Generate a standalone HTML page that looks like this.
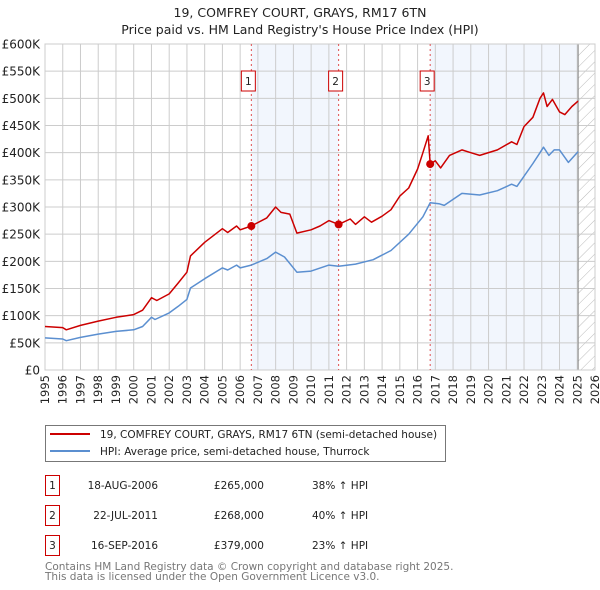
<!DOCTYPE html>
<html><head><meta charset="utf-8"><style>
body{margin:0;background:#fff;width:600px;height:590px;overflow:hidden;font-family:"DejaVu Sans","Liberation Sans",sans-serif}
svg{display:block}
</style></head><body>
<svg id="chart" width="600" height="590" viewBox="0 0 600 590" xmlns="http://www.w3.org/2000/svg" font-family="DejaVu Sans, Liberation Sans, sans-serif">
<text x="300" y="17" text-anchor="middle" font-size="12.5" fill="#222">19, COMFREY COURT, GRAYS, RM17 6TN</text>
<text x="300" y="34" text-anchor="middle" font-size="12.5" fill="#222">Price paid vs. HM Land Registry's House Price Index (HPI)</text>
<defs><pattern id="hatch" width="8" height="8" patternUnits="userSpaceOnUse" patternTransform="rotate(45)"><line x1="0" y1="0" x2="0" y2="8" stroke="#bbb" stroke-width="1"/></pattern></defs>
<g id="plot"></g>
<rect x="45.5" y="425.5" width="400" height="36" fill="#fff" stroke="#777"/>
<line x1="50" y1="434" x2="90" y2="434" stroke="#cc0000" stroke-width="2"/>
<text x="100" y="438" font-size="10.5" fill="#222">19, COMFREY COURT, GRAYS, RM17 6TN (semi-detached house)</text>
<line x1="50" y1="451" x2="90" y2="451" stroke="#5b8fd0" stroke-width="2"/>
<text x="100" y="455" font-size="10.5" fill="#222">HPI: Average price, semi-detached house, Thurrock</text>
<g id="table" font-size="10.5" fill="#222"></g>
<text x="45" y="570" font-size="10.5" fill="#777">Contains HM Land Registry data © Crown copyright and database right 2025.</text>
<text x="45" y="580" font-size="10.5" fill="#777">This data is licensed under the Open Government Licence v3.0.</text>
</svg>
<script>
const hpiYears=[1995,1996,1996.2,1997,1998,1999,2000,2000.5,2001,2001.2,2002,2002.5,2003,2003.2,2004,2005,2005.3,2005.8,2006,2006.63,2007.5,2008,2008.5,2009.2,2010,2011,2011.55,2012.5,2013.5,2014.5,2015.5,2016.3,2016.71,2017.2,2017.5,2018.5,2019.5,2020.5,2021.3,2021.6,2022.5,2022.9,2023.1,2023.4,2023.7,2024.0,2024.5,2025.05];
const hpiValues=[59,57,54,60,66,71,74,80,97,93,105,117,130,151,168,188,184,193,188,193,205,217,208,180,182,193,191,195,203,220,250,282,308,306,303,325,322,330,342,338,380,400,410,395,405,405,382,402];
const priceYears=[1995,1996,1996.2,1997,1998,1999,2000,2000.5,2001,2001.3,2002,2002.5,2003,2003.2,2004,2005,2005.3,2005.8,2006,2006.63,2007.5,2008,2008.3,2008.8,2009.2,2010,2010.5,2011,2011.55,2012.2,2012.5,2013,2013.4,2014,2014.5,2015,2015.5,2016,2016.3,2016.6,2016.71,2017.0,2017.3,2017.8,2018.5,2019,2019.5,2020.5,2021.3,2021.6,2022,2022.5,2022.9,2023.1,2023.3,2023.6,2024.0,2024.3,2024.7,2025.05];
const priceValues=[80,78,74,82,90,97,102,110,133,128,140,160,180,210,235,260,253,265,258,265,280,300,290,287,252,258,265,275,268,278,268,282,272,283,295,320,335,370,400,431,379,385,372,395,405,400,395,405,420,415,448,465,500,510,485,498,475,470,485,495];
const saleYears=[2006.63,2011.55,2016.71];
const salePrices=[265,268,379];
const saleLabels=["1","2","3"];
const saleDates=["18-AUG-2006","22-JUL-2011","16-SEP-2016"];
const salePriceText=["£265,000","£268,000","£379,000"];
const saleHpiText=["38% ↑ HPI","40% ↑ HPI","23% ↑ HPI"];
const yTicks=[0,50,100,150,200,250,300,350,400,450,500,550,600];
const yTickLabels=["£0","£50K","£100K","£150K","£200K","£250K","£300K","£350K","£400K","£450K","£500K","£550K","£600K"];
const xTicks=[1995,1996,1997,1998,1999,2000,2001,2002,2003,2004,2005,2006,2007,2008,2009,2010,2011,2012,2013,2014,2015,2016,2017,2018,2019,2020,2021,2022,2023,2024,2025,2026];
const dataEnd=2025.05;

const NS="http://www.w3.org/2000/svg";
const L=45,R=595,T=44,B=370,x0=1995,x1=2026,yMax=600;
const xs=v=>L+(v-x0)/(x1-x0)*(R-L);
const ys=v=>B-v/yMax*(B-T);
const plot=document.getElementById('plot');
function mk(tag,attrs,parent){const e=document.createElementNS(NS,tag);for(const k in attrs)e.setAttribute(k,attrs[k]);(parent||plot).appendChild(e);return e;}

let sh=mk('rect',{x:xs(saleYears[0]),y:T,width:xs(saleYears[1])-xs(saleYears[0]),height:B-T,fill:'#f2f6fd'});


let sh2=mk('rect',{x:xs(saleYears[2]),y:T,width:xs(dataEnd)-xs(saleYears[2]),height:B-T,fill:'#f2f6fd'});


let hz=mk('rect',{x:xs(dataEnd),y:T,width:R-xs(dataEnd),height:B-T,fill:'url(#hatch)'});



yTicks.forEach((v,i)=>{
  mk('line',{x1:L,x2:R,y1:ys(v),y2:ys(v),stroke:'#cccccc','stroke-width':1});
  const t=mk('text',{x:L-5,y:ys(v)+4.5,'text-anchor':'end','font-size':'12',fill:'#222'});
  t.textContent=yTickLabels[i];
  
  
});
xTicks.forEach(v=>{
  mk('line',{x1:xs(v),x2:xs(v),y1:T,y2:B,stroke:'#cccccc','stroke-width':1});
  const t=mk('text',{x:0,y:0,'text-anchor':'end','font-size':'11.5',fill:'#222',transform:`translate(${xs(v)+4},${B+5}) rotate(-90)`});
  t.textContent=v;
  
  
});
mk('line',{x1:xs(dataEnd),x2:xs(dataEnd),y1:T,y2:B,stroke:'#888','stroke-width':1});
mk('rect',{x:L,y:T,width:R-L,height:B-T,fill:'none',stroke:'#ccc'});

saleYears.forEach((v,i)=>{
  mk('line',{x1:xs(v),x2:xs(v),y1:T,y2:B,stroke:'#e05050','stroke-width':1,'stroke-dasharray':'2,3'});
  const b=mk('rect',{x:xs(v)-10,y:71,width:14,height:20,fill:'#fff',stroke:'#cc0000'});
  
  
  const t=mk('text',{x:xs(v)-3,y:85,'text-anchor':'middle','font-size':'10.5',fill:'#222'});
  t.textContent=saleLabels[i];
});

function line(xa,va,color,name){
  const d=xa.map((x,i)=>(i?'L':'M')+xs(x).toFixed(1)+','+ys(va[i]).toFixed(1)).join('');
  const p=mk('path',{d:d,fill:'none',stroke:color,'stroke-width':1.5,'stroke-linejoin':'round'});
  
  
}
line(hpiYears,hpiValues,'#5b8fd0','hpi-line');
line(priceYears,priceValues,'#cc0000','price-line');
saleYears.forEach((v,i)=>{
  const c=mk('circle',{cx:xs(v),cy:ys(salePrices[i]),r:4,fill:'#cc0000'});
  
  
});

const tbl=document.getElementById('table');
saleYears.forEach((v,i)=>{
  const y=475+i*30;
  const b=mk('rect',{x:45.5,y:y+0.5,width:14,height:20,fill:'#fff',stroke:'#cc0000'},tbl);
  
  
  const a=mk('text',{x:52.5,y:y+14,'text-anchor':'middle'},tbl);a.textContent=saleLabels[i];
  const d=mk('text',{x:158,y:y+14,'text-anchor':'end'},tbl);d.textContent=saleDates[i];
  
  
  const p=mk('text',{x:264,y:y+14,'text-anchor':'end'},tbl);p.textContent=salePriceText[i];
  
  
  const h=mk('text',{x:312,y:y+14},tbl);h.textContent=saleHpiText[i];
  
  
});
</script>
</body></html>
